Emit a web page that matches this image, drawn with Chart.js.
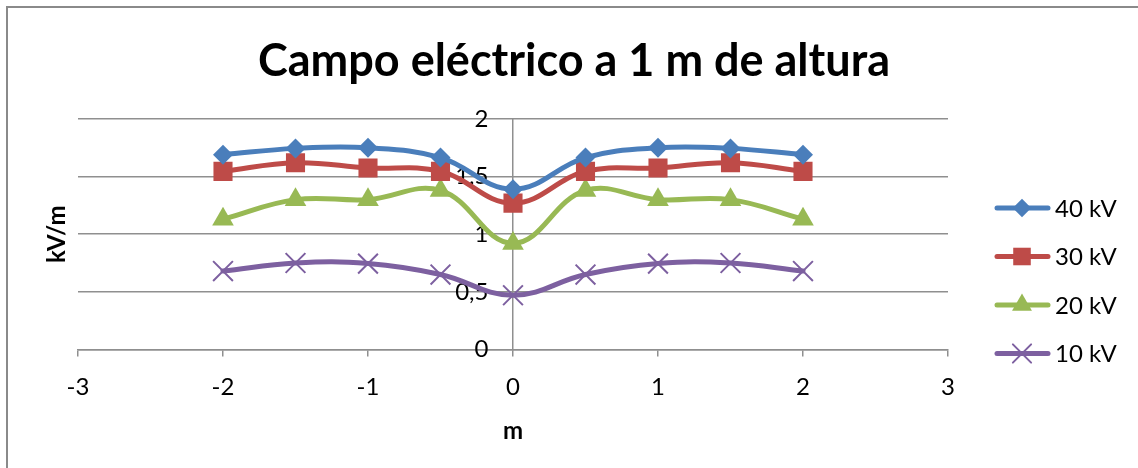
<!DOCTYPE html>
<html>
<head>
<meta charset="utf-8">
<script src="https://cdn.jsdelivr.net/npm/chart.js@4.4.0/dist/chart.umd.min.js"></script>
<style>
  html, body { margin: 0; padding: 0; background: #fff; overflow: hidden; }
  #marco { position: absolute; left: 6px; top: 6px; width: 1160px; height: 490px; border: 2px solid #8a8a8a; }
  #grafico { position: absolute; left: 0; top: 0; }
</style>
</head>
<body>
<div id="marco"></div>
<canvas id="grafico" width="1138" height="468"></canvas>
<script>
// Datos
const distancias = [-2, -1.5, -1, -0.5, 0, 0.5, 1, 1.5, 2];
const campo40 = [1.69, 1.745, 1.75, 1.665, 1.39, 1.665, 1.75, 1.745, 1.69];
const campo30 = [1.545, 1.62, 1.575, 1.545, 1.27, 1.545, 1.575, 1.62, 1.545];
const campo20 = [1.13, 1.30, 1.30, 1.38, 0.92, 1.38, 1.30, 1.30, 1.13];
const campo10 = [0.68, 0.75, 0.745, 0.65, 0.47, 0.65, 0.745, 0.75, 0.68];
const series = ["40 kV", "30 kV", "20 kV", "10 kV"];
const titulo = "Campo eléctrico a 1 m de altura";

const fuente = "Lato, 'Open Sans', sans-serif";
const gris = "#8f8f8f";

function puntos(valores) {
  return distancias.map(function(x, i) { return { x: x, y: valores[i] }; });
}

function serie(nombre, valores, color, estilo, radio, borde) {
  return {
    label: nombre,
    data: puntos(valores),
    borderColor: color,
    backgroundColor: color,
    borderWidth: 5,
    borderCapStyle: "round",
    borderJoinStyle: "round",
    tension: 0.4,
    pointStyle: estilo,
    pointRadius: radio,
    pointHoverRadius: radio,
    pointBackgroundColor: color,
    pointBorderColor: color,
    pointBorderWidth: borde
  };
}

// titulo, leyenda y titulo vertical dibujados a mano
const extras = {
  id: "extras",
  afterDraw(chart) {
    const ctx = chart.ctx;
    const area = chart.chartArea;

    ctx.save();
    ctx.fillStyle = "#000";
    ctx.font = "bold 45px " + fuente;
    ctx.textAlign = "center";
    ctx.textBaseline = "alphabetic";
    ctx.fillText(titulo, chart.width / 2 + 5, 76);
    ctx.restore();

    ctx.save();
    ctx.fillStyle = "#000";
    ctx.font = "bold 24px " + fuente;
    ctx.textAlign = "center";
    ctx.textBaseline = "middle";
    ctx.translate(57, (area.top + area.bottom) / 2);
    ctx.rotate(-Math.PI / 2);
    ctx.fillText("kV/m", 0, 0);
    ctx.restore();

    chart.data.datasets.forEach(function(ds, i) {
      const y = 208 + i * 48.5;
      ctx.save();
      ctx.strokeStyle = ds.borderColor;
      ctx.lineWidth = 5;
      ctx.lineCap = "round";
      ctx.beginPath();
      ctx.moveTo(997, y);
      ctx.lineTo(1048, y);
      ctx.stroke();
      ctx.fillStyle = ds.pointBackgroundColor;
      ctx.strokeStyle = ds.pointBorderColor;
      ctx.lineWidth = ds.pointBorderWidth;
      Chart.helpers.drawPoint(ctx, {
        pointStyle: ds.pointStyle,
        radius: ds.pointRadius * 0.92,
        rotation: 0,
        borderWidth: ds.pointBorderWidth
      }, 1022, y);
      ctx.fillStyle = "#000";
      ctx.font = "24px " + fuente;
      ctx.textAlign = "left";
      ctx.textBaseline = "middle";
      ctx.fillText(ds.label, 1055, y + 1);
      ctx.restore();
    });
  }
};

const ctx = document.getElementById("grafico").getContext("2d");
const grafico = new Chart(ctx, {
  type: "line",
  data: {
    datasets: [
      serie(series[0], campo40, "#4a7ebb", "rectRot", 10, 0),
      serie(series[1], campo30, "#be4b48", "rect", 13.5, 0),
      serie(series[2], campo20, "#98b954", "triangle", 12.5, 0),
      serie(series[3], campo10, "#7d60a0", "crossRot", 14, 2)
    ]
  },
  options: {
    responsive: false,
    animation: false,
    layout: { padding: { left: 78, right: 190, top: 119, bottom: 22 } },
    plugins: {
      legend: { display: false },
      tooltip: { enabled: false },
      title: { display: false }
    },
    scales: {
      x: {
        type: "linear",
        min: -3,
        max: 3,
        ticks: {
          stepSize: 1,
          color: "#000",
          padding: 16,
          font: { family: fuente, size: 24 }
        },
        grid: { drawOnChartArea: false, drawTicks: true, tickLength: 7, color: gris, lineWidth: 1.5 },
        border: { color: gris, width: 1.5 },
        title: {
          display: true,
          text: "m",
          color: "#000",
          font: { family: fuente, size: 24, weight: "bold" },
          padding: { top: 0, bottom: 0 }
        }
      },
      y: {
        type: "linear",
        position: { x: 0 },
        min: 0,
        max: 2,
        ticks: {
          stepSize: 0.5,
          color: "#000",
          font: { family: fuente, size: 24 },
          // el eje centrado no usa padding: se separa con espacios
          callback: function(v) { return String(v).replace(".", ",") + "    "; }
        },
        grid: { drawTicks: false, color: gris, lineWidth: 1.5 },
        border: { color: gris, width: 1.5 }
      }
    }
  },
  plugins: [extras]
});
</script>
</body>
</html>
